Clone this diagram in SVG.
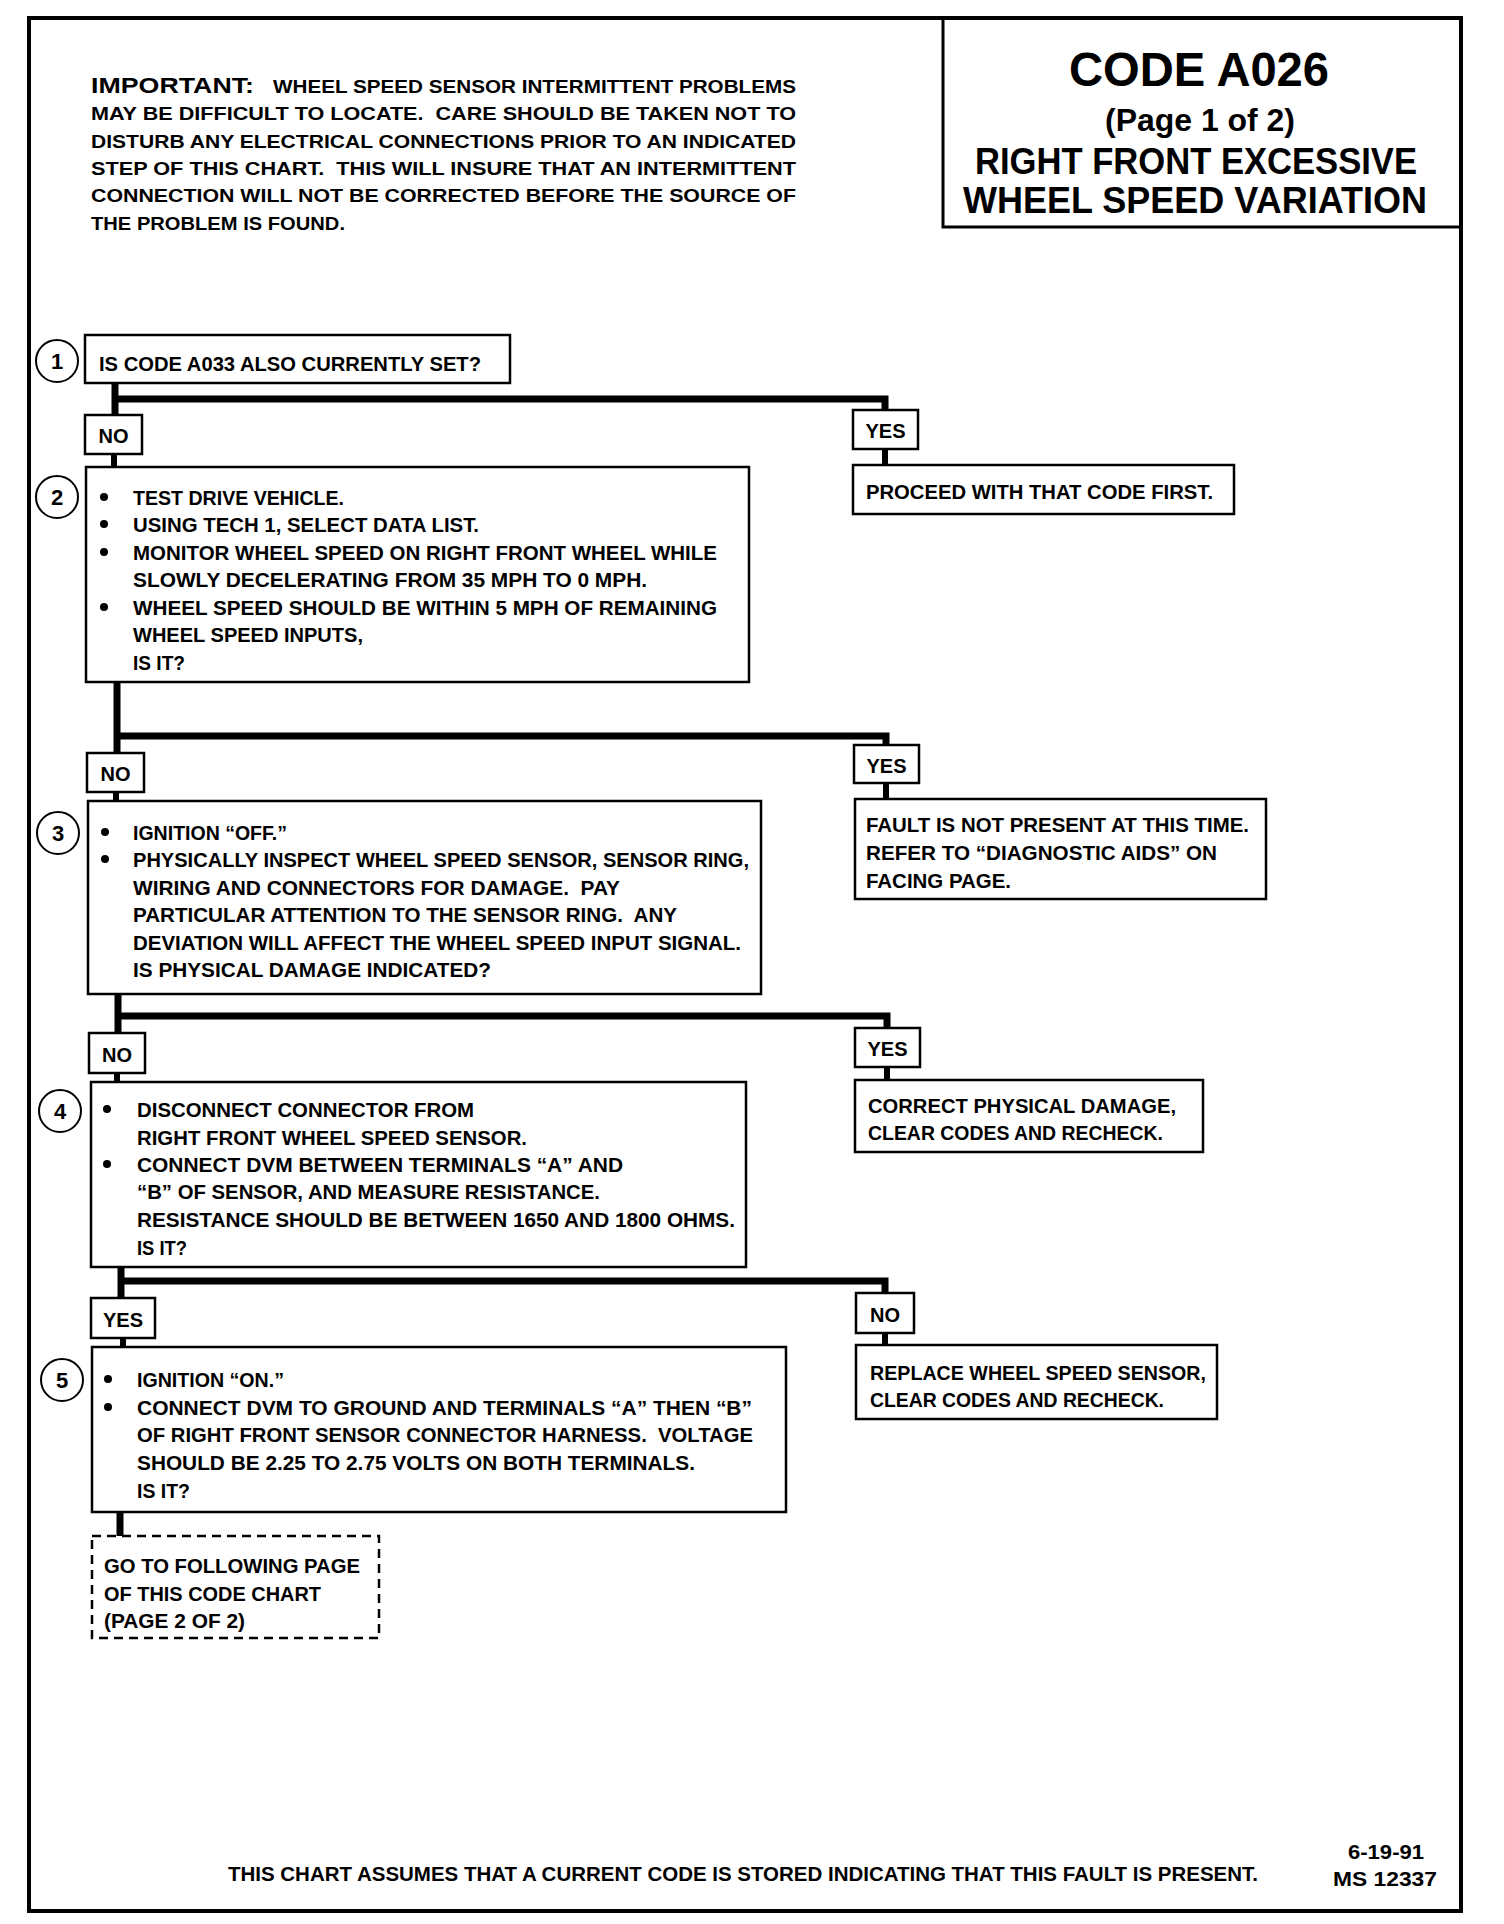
<svg xmlns="http://www.w3.org/2000/svg" width="1504" height="1924" viewBox="0 0 1504 1924">
<style>
text{font-family:"Liberation Sans",Arial,sans-serif;font-weight:bold;fill:#000;white-space:pre}
.t{font-size:21px}
.p{font-size:18.5px}
.lb{font-size:20px;text-anchor:middle}
.num{font-size:22px;text-anchor:middle}
.box{fill:#fff;stroke:#000;stroke-width:2.5}
.dash{fill:#fff;stroke:#000;stroke-width:2.5;stroke-dasharray:9 6}
.circ{fill:#fff;stroke:#000;stroke-width:2}
.c{fill:none;stroke:#000;stroke-width:7}
.cs{fill:none;stroke:#000;stroke-width:6}
.bul{fill:#000}
</style>
<rect x="0" y="0" width="1504" height="1924" fill="#fff"/>
<g id="frame">
<rect x="29" y="18" width="1432" height="1893" fill="none" stroke="#000" stroke-width="4"/>
<path d="M943,18 V227 H1461" fill="none" stroke="#000" stroke-width="3"/>
</g>
<g id="title">
<text x="1199" y="86" font-size="48" text-anchor="middle" textLength="260" lengthAdjust="spacingAndGlyphs">CODE A026</text>
<text x="1200" y="131" font-size="32" text-anchor="middle" textLength="190" lengthAdjust="spacingAndGlyphs">(Page 1 of 2)</text>
<text x="1196" y="174" font-size="36" text-anchor="middle" textLength="442" lengthAdjust="spacingAndGlyphs">RIGHT FRONT EXCESSIVE</text>
<text x="1195" y="213" font-size="37" text-anchor="middle" textLength="464" lengthAdjust="spacingAndGlyphs">WHEEL SPEED VARIATION</text>
</g>
<g id="important">
<text x="91" y="93" font-size="22" textLength="163" lengthAdjust="spacingAndGlyphs">IMPORTANT:</text>
<text class="p" x="273" y="93" textLength="523" lengthAdjust="spacingAndGlyphs">WHEEL SPEED SENSOR INTERMITTENT PROBLEMS</text>
<text class="p" x="91" y="120" textLength="705" lengthAdjust="spacingAndGlyphs">MAY BE DIFFICULT TO LOCATE.  CARE SHOULD BE TAKEN NOT TO</text>
<text class="p" x="91" y="148" textLength="705" lengthAdjust="spacingAndGlyphs">DISTURB ANY ELECTRICAL CONNECTIONS PRIOR TO AN INDICATED</text>
<text class="p" x="91" y="175" textLength="705" lengthAdjust="spacingAndGlyphs">STEP OF THIS CHART.  THIS WILL INSURE THAT AN INTERMITTENT</text>
<text class="p" x="91" y="202" textLength="705" lengthAdjust="spacingAndGlyphs">CONNECTION WILL NOT BE CORRECTED BEFORE THE SOURCE OF</text>
<text class="p" x="91" y="230" textLength="254" lengthAdjust="spacingAndGlyphs">THE PROBLEM IS FOUND.</text>
</g>
<g id="connectors">
<path class="c" d="M115,383 V415"/>
<path class="c" d="M115,399 H885 V410"/>
<path class="cs" d="M885,449 V465"/>
<path class="cs" d="M114,454 V467"/>
<path class="c" d="M117,682 V753"/>
<path class="c" d="M117,736 H886 V745"/>
<path class="cs" d="M886,783 V799"/>
<path class="cs" d="M116,792 V801"/>
<path class="c" d="M118,994 V1033"/>
<path class="c" d="M118,1016 H887 V1028"/>
<path class="cs" d="M887,1067 V1080"/>
<path class="cs" d="M117,1073 V1082"/>
<path class="c" d="M121,1267 V1298"/>
<path class="c" d="M121,1281 H885 V1293"/>
<path class="cs" d="M885,1333 V1345"/>
<path class="cs" d="M123,1338 V1347"/>
<path class="c" d="M120,1512 V1536"/>
</g>
<g id="step1">
<circle class="circ" cx="57" cy="361" r="21"/>
<text class="num" x="57" y="369">1</text>
<rect class="box" x="85" y="335" width="425" height="48"/>
<text class="t" x="99" y="371" textLength="382" lengthAdjust="spacingAndGlyphs">IS CODE A033 ALSO CURRENTLY SET?</text>
</g>
<g id="no1"><rect class="box" x="85" y="415" width="57" height="39"/><text class="lb" x="113.5" y="443">NO</text></g>
<g id="yes1"><rect class="box" x="853" y="410" width="65" height="39"/><text class="lb" x="885.5" y="438">YES</text></g>
<g id="result1">
<rect class="box" x="853" y="465" width="381" height="49"/>
<text class="t" x="866" y="499" textLength="347" lengthAdjust="spacingAndGlyphs">PROCEED WITH THAT CODE FIRST.</text>
</g>
<g id="step2">
<circle class="circ" cx="57" cy="497" r="21"/>
<text class="num" x="57" y="505">2</text>
<rect class="box" x="86" y="467" width="663" height="215"/>
<circle class="bul" cx="104" cy="497" r="4"/>
<circle class="bul" cx="104" cy="524" r="4"/>
<circle class="bul" cx="104" cy="552" r="4"/>
<circle class="bul" cx="104" cy="607" r="4"/>
<text class="t" x="133" y="505" textLength="211" lengthAdjust="spacingAndGlyphs">TEST DRIVE VEHICLE.</text>
<text class="t" x="133" y="532" textLength="346" lengthAdjust="spacingAndGlyphs">USING TECH 1, SELECT DATA LIST.</text>
<text class="t" x="133" y="560" textLength="584" lengthAdjust="spacingAndGlyphs">MONITOR WHEEL SPEED ON RIGHT FRONT WHEEL WHILE</text>
<text class="t" x="133" y="587" textLength="514" lengthAdjust="spacingAndGlyphs">SLOWLY DECELERATING FROM 35 MPH TO 0 MPH.</text>
<text class="t" x="133" y="615" textLength="584" lengthAdjust="spacingAndGlyphs">WHEEL SPEED SHOULD BE WITHIN 5 MPH OF REMAINING</text>
<text class="t" x="133" y="642" textLength="230" lengthAdjust="spacingAndGlyphs">WHEEL SPEED INPUTS,</text>
<text class="t" x="133" y="670" textLength="52" lengthAdjust="spacingAndGlyphs">IS IT?</text>
</g>
<g id="no2"><rect class="box" x="87" y="753" width="57" height="39"/><text class="lb" x="115.5" y="781">NO</text></g>
<g id="yes2"><rect class="box" x="854" y="745" width="65" height="38"/><text class="lb" x="886.5" y="773">YES</text></g>
<g id="result2">
<rect class="box" x="855" y="799" width="411" height="100"/>
<text class="t" x="866" y="832" textLength="383" lengthAdjust="spacingAndGlyphs">FAULT IS NOT PRESENT AT THIS TIME.</text>
<text class="t" x="866" y="860" textLength="351" lengthAdjust="spacingAndGlyphs">REFER TO “DIAGNOSTIC AIDS” ON</text>
<text class="t" x="866" y="888" textLength="145" lengthAdjust="spacingAndGlyphs">FACING PAGE.</text>
</g>
<g id="step3">
<circle class="circ" cx="58" cy="833" r="21"/>
<text class="num" x="58" y="841">3</text>
<rect class="box" x="88" y="801" width="673" height="193"/>
<circle class="bul" cx="105" cy="832" r="4"/>
<circle class="bul" cx="105" cy="859" r="4"/>
<text class="t" x="133" y="840" textLength="154" lengthAdjust="spacingAndGlyphs">IGNITION “OFF.”</text>
<text class="t" x="133" y="867" textLength="616" lengthAdjust="spacingAndGlyphs">PHYSICALLY INSPECT WHEEL SPEED SENSOR, SENSOR RING,</text>
<text class="t" x="133" y="895" textLength="487" lengthAdjust="spacingAndGlyphs">WIRING AND CONNECTORS FOR DAMAGE.  PAY</text>
<text class="t" x="133" y="922" textLength="544" lengthAdjust="spacingAndGlyphs">PARTICULAR ATTENTION TO THE SENSOR RING.  ANY</text>
<text class="t" x="133" y="950" textLength="608" lengthAdjust="spacingAndGlyphs">DEVIATION WILL AFFECT THE WHEEL SPEED INPUT SIGNAL.</text>
<text class="t" x="133" y="977" textLength="358" lengthAdjust="spacingAndGlyphs">IS PHYSICAL DAMAGE INDICATED?</text>
</g>
<g id="no3"><rect class="box" x="89" y="1033" width="56" height="40"/><text class="lb" x="117" y="1062">NO</text></g>
<g id="yes3"><rect class="box" x="855" y="1028" width="65" height="39"/><text class="lb" x="887.5" y="1056">YES</text></g>
<g id="result3">
<rect class="box" x="855" y="1080" width="348" height="72"/>
<text class="t" x="868" y="1113" textLength="308" lengthAdjust="spacingAndGlyphs">CORRECT PHYSICAL DAMAGE,</text>
<text class="t" x="868" y="1140" textLength="295" lengthAdjust="spacingAndGlyphs">CLEAR CODES AND RECHECK.</text>
</g>
<g id="step4">
<circle class="circ" cx="60" cy="1111" r="21"/>
<text class="num" x="60" y="1119">4</text>
<rect class="box" x="91" y="1082" width="655" height="185"/>
<circle class="bul" cx="107" cy="1109" r="4"/>
<circle class="bul" cx="107" cy="1164" r="4"/>
<text class="t" x="137" y="1117" textLength="337" lengthAdjust="spacingAndGlyphs">DISCONNECT CONNECTOR FROM</text>
<text class="t" x="137" y="1145" textLength="390" lengthAdjust="spacingAndGlyphs">RIGHT FRONT WHEEL SPEED SENSOR.</text>
<text class="t" x="137" y="1172" textLength="486" lengthAdjust="spacingAndGlyphs">CONNECT DVM BETWEEN TERMINALS “A” AND</text>
<text class="t" x="137" y="1199" textLength="463" lengthAdjust="spacingAndGlyphs">“B” OF SENSOR, AND MEASURE RESISTANCE.</text>
<text class="t" x="137" y="1227" textLength="598" lengthAdjust="spacingAndGlyphs">RESISTANCE SHOULD BE BETWEEN 1650 AND 1800 OHMS.</text>
<text class="t" x="137" y="1255" textLength="50" lengthAdjust="spacingAndGlyphs">IS IT?</text>
</g>
<g id="yes4"><rect class="box" x="91" y="1298" width="64" height="40"/><text class="lb" x="123" y="1327">YES</text></g>
<g id="no4"><rect class="box" x="856" y="1293" width="58" height="40"/><text class="lb" x="885" y="1322">NO</text></g>
<g id="result4">
<rect class="box" x="856" y="1345" width="361" height="74"/>
<text class="t" x="870" y="1380" textLength="336" lengthAdjust="spacingAndGlyphs">REPLACE WHEEL SPEED SENSOR,</text>
<text class="t" x="870" y="1407" textLength="294" lengthAdjust="spacingAndGlyphs">CLEAR CODES AND RECHECK.</text>
</g>
<g id="step5">
<circle class="circ" cx="62" cy="1380" r="21"/>
<text class="num" x="62" y="1388">5</text>
<rect class="box" x="92" y="1347" width="694" height="165"/>
<circle class="bul" cx="108" cy="1379" r="4"/>
<circle class="bul" cx="108" cy="1407" r="4"/>
<text class="t" x="137" y="1387" textLength="147" lengthAdjust="spacingAndGlyphs">IGNITION “ON.”</text>
<text class="t" x="137" y="1415" textLength="615" lengthAdjust="spacingAndGlyphs">CONNECT DVM TO GROUND AND TERMINALS “A” THEN “B”</text>
<text class="t" x="137" y="1442" textLength="616" lengthAdjust="spacingAndGlyphs">OF RIGHT FRONT SENSOR CONNECTOR HARNESS.  VOLTAGE</text>
<text class="t" x="137" y="1470" textLength="558" lengthAdjust="spacingAndGlyphs">SHOULD BE 2.25 TO 2.75 VOLTS ON BOTH TERMINALS.</text>
<text class="t" x="137" y="1498" textLength="53" lengthAdjust="spacingAndGlyphs">IS IT?</text>
</g>
<g id="goto">
<rect class="dash" x="92" y="1536" width="287" height="102"/>
<text class="t" x="104" y="1573" textLength="256" lengthAdjust="spacingAndGlyphs">GO TO FOLLOWING PAGE</text>
<text class="t" x="104" y="1601" textLength="217" lengthAdjust="spacingAndGlyphs">OF THIS CODE CHART</text>
<text class="t" x="104" y="1628" textLength="141" lengthAdjust="spacingAndGlyphs">(PAGE 2 OF 2)</text>
</g>
<g id="footer">
<text class="t" x="228" y="1881" textLength="1030" lengthAdjust="spacingAndGlyphs">THIS CHART ASSUMES THAT A CURRENT CODE IS STORED INDICATING THAT THIS FAULT IS PRESENT.</text>
<text class="t" x="1386" y="1859" text-anchor="middle" textLength="76" lengthAdjust="spacingAndGlyphs">6-19-91</text>
<text class="t" x="1385" y="1886" text-anchor="middle" textLength="104" lengthAdjust="spacingAndGlyphs">MS 12337</text>
</g>
</svg>
